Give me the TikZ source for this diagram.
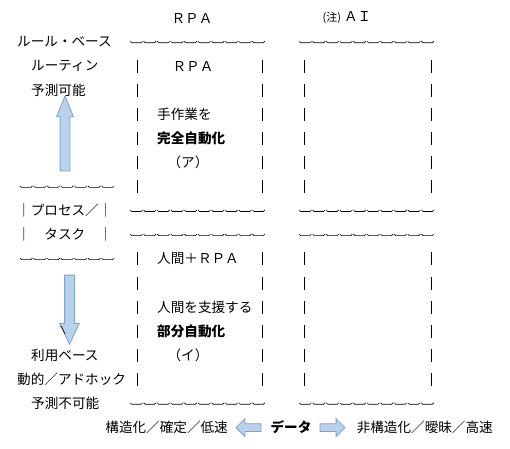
\documentclass[tikz,border=0pt]{standalone}
\usepackage{fontspec}
\setmainfont{Noto Sans CJK JP}
\usepackage{tikz}
\usetikzlibrary{shapes.arrows,positioning}

\begin{document}
\begin{tikzpicture}[x=1pt, y=-1pt,
    txt/.style={inner sep=0pt, font=\fontsize{13.6}{16}\selectfont},
    bold/.style={txt, font=\fontsize{13.6}{16}\selectfont\bfseries},
    bar/.style={black, line width=0.7pt},
    wavy/.style={black, line width=0.6pt},
    blockarr/.style={shape=single arrow, draw={rgb,255:red,122;green,163;blue,208},
      fill={rgb,255:red,185;green,209;blue,234}, line width=0.8pt,
      single arrow head indent=0pt, inner xsep=0pt}]
  \useasboundingbox (0,0) rectangle (510,448);
  % Column heads
  \node[txt] (rpahead) at (192,18) {ＲＰＡ};
  \node[txt] (aihead) at (347,18) {{\fontsize{11}{13}\selectfont (注)} ＡＩ};
  % Left column
  \node[txt, anchor=west] (rule) at (17,42) {ルール・ベース};
  \node[txt, anchor=west] (routine) at (31,66) {ルーティン};
  \node[txt, anchor=west] (predict) at (31,90) {予測可能};
  \node[txt, anchor=west] (process) at (17,210.7) {｜プロセス／｜};
  \node[txt, anchor=west] (task) at (17,234.8) {｜　タスク　｜};
  \node[txt, anchor=west] (usage) at (31,355) {利用ベース};
  \node[txt, anchor=west] (adhoc) at (17,379) {動的／アドホック};
  \node[txt, anchor=west] (unpredict) at (31,403.5) {予測不可能};
  % RPA column
  \node[txt] (rpaname) at (193,66) {ＲＰＡ};
  \node[txt, anchor=west] (manual) at (157,114) {手作業を};
  \node[bold, anchor=west] (fullauto) at (157,138) {完全自動化};
  \node[txt] (kana_a) at (188,162.5) {（ア）};
  \node[txt, anchor=west] (human) at (157,259) {人間＋ＲＰＡ};
  \node[txt, anchor=west] (assist) at (157,307) {人間を支援する};
  \node[bold, anchor=west] (partauto) at (157,331) {部分自動化};
  \node[txt] (kana_i) at (188,355) {（イ）};
  % Wavy rules
  \foreach \x/\y/\n in {130/42/10, 299/42/10, 20/186.6/7, 130/210.7/10, 299/210.7/10,
      130/234.8/10, 299/234.8/10, 20/258.9/7, 130/403.5/10, 299/403.5/10}
    \draw[wavy] (\x,\y-0.75) \foreach \i in {1,...,\n} {
      -- ++(1.5,1.5) -- ++(9.5,0) -- ++(1.5,-1.5) ++(1.1,0) };
  % Column bars
  \foreach \x in {137,262,304,431}
    \foreach \k in {2,3,4,5,6,7,10,11,12,13,14,15}
      \draw[bar] (\x,{42+24.1*(\k-1)-6.5}) -- ++(0,13);
  % Up and down arrows
  \node[blockarr, rotate=90, minimum height=75pt, inner ysep=4.5pt,
    single arrow head extend=3.5pt, single arrow tip angle=44] (uparrow) at (65,139.5) {};
  \node[blockarr, rotate=-90, minimum height=69pt, inner ysep=4.5pt,
    single arrow head extend=5pt, single arrow tip angle=51] (downarrow) at (69.5,304.5) {};
  \draw[black, line width=0.6pt] (60,326) -- (61.5,326.5) -- (65,334);
  % Data row
  \node[bold] (data) at (291,427.6) {データ};
  \node[blockarr, rotate=180, minimum height=25pt, inner ysep=3.5pt,
    single arrow head extend=5pt] (leftarr) at (250.5,427.6) {};
  \node[blockarr, minimum height=25pt, inner ysep=3.5pt,
    single arrow head extend=5pt, right=8pt of data] (rightarr) {};
  \node[txt, anchor=east] (structured) at (228,427.6) {構造化／確定／低速};
  \node[txt, right=11pt of rightarr] (unstructured) {非構造化／曖昧／高速};
\end{tikzpicture}
\end{document}
